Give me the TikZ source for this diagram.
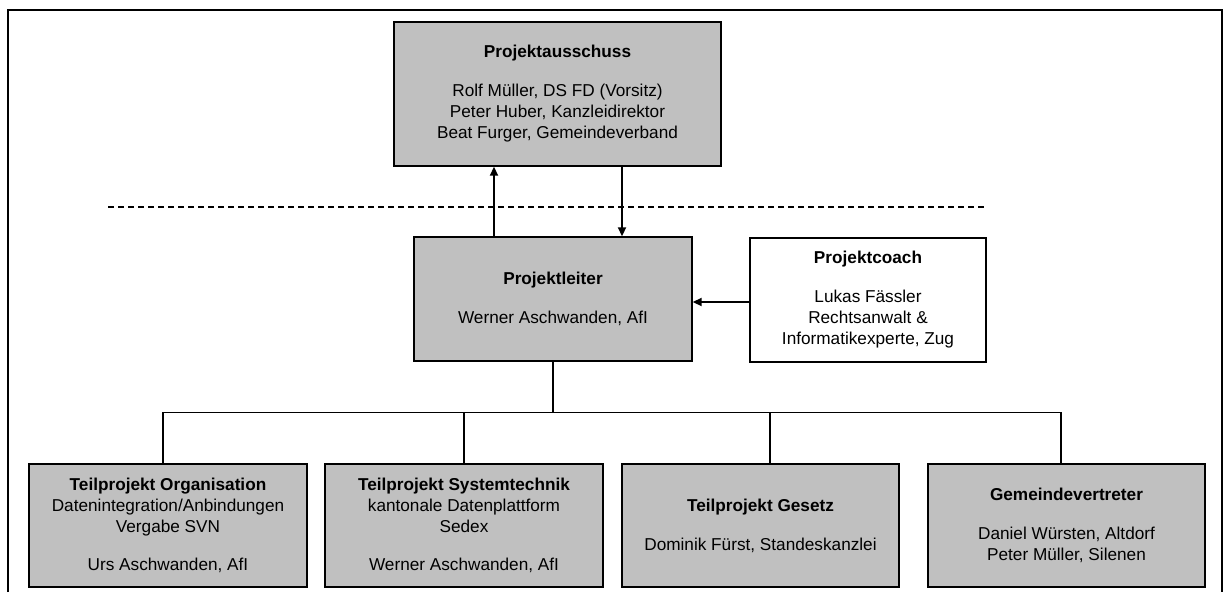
\documentclass[tikz,border=0pt]{standalone}
\usepackage{fontspec}
\setmainfont{Liberation Sans}
\usetikzlibrary{arrows.meta}
\definecolor{boxgray}{RGB}{192,192,192}
\begin{document}
\begin{tikzpicture}[x=1pt,y=-1pt,
  box/.style={draw=black, line width=1.4pt, fill=boxgray, align=center, inner sep=0pt,
    font=\fontsize{17.2}{21}\selectfont},
  wbox/.style={box, fill=white},
  conn/.style={line width=1.5pt},
  arr/.style={line width=1.9pt, -{Triangle[length=9pt,width=8pt]}},
  sep/.style={line width=1.5pt, dash pattern=on 6pt off 4pt},
  frame/.style={line width=2pt}]
\useasboundingbox (0,0) rectangle (1226,592);
\fill[white] (0,0) rectangle (1226,592);
\coordinate (fbl) at (8,592);
\coordinate (ftl) at (8,10);
\coordinate (ftr) at (1222,10);
\coordinate (fbr) at (1222,592);
\draw[frame] (fbl) -- (ftl) -- (ftr) -- (fbr);

\node[box, minimum width=327pt, minimum height=144pt] (pa) at (557.5,94)
  {\textbf{Projektausschuss}\\[18pt]Rolf Müller, DS FD (Vorsitz)\\Peter Huber, Kanzleidirektor\\Beat Furger, Gemeindeverband};
\node[box, minimum width=278pt, minimum height=124pt] (pl) at (553,299)
  {\textbf{Projektleiter}\\[18pt]Werner Aschwanden, AfI};
\node[wbox, minimum width=236pt, minimum height=124pt] (pc) at (868,300)
  {\textbf{Projektcoach}\\[18pt]Lukas Fässler\\Rechtsanwalt \&\\Informatikexperte, Zug};

\node[box, minimum width=278pt, minimum height=123pt] (b1) at (168,525.5)
  {\textbf{Teilprojekt Organisation}\\Datenintegration/Anbindungen\\Vergabe SVN\\[17pt]Urs Aschwanden, AfI};
\node[box, minimum width=278pt, minimum height=123pt] (b2) at (464,525.5)
  {\textbf{Teilprojekt Systemtechnik}\\kantonale Datenplattform\\Sedex\\[17pt]Werner Aschwanden, AfI};
\node[box, minimum width=277pt, minimum height=123pt] (b3) at (760.5,525.5)
  {\textbf{Teilprojekt Gesetz}\\[18pt]Dominik Fürst, Standeskanzlei};
\node[box, minimum width=277pt, minimum height=123pt] (b4) at (1066.5,525.5)
  {\textbf{Gemeindevertreter}\\[18pt]Daniel Würsten, Altdorf\\Peter Müller, Silenen};

\coordinate (dl) at (108,207);
\coordinate (dr) at (986,207);
\draw[sep] (dl) -- (dr);

\draw[arr] ([xshift=-59pt]pl.north) -- ([xshift=-63.5pt]pa.south);
\draw[arr] ([xshift=64.5pt]pa.south) -- ([xshift=69pt]pl.north);
\draw[arr] ([yshift=-2pt]pc.west) -- ([yshift=-3pt]pl.east);

\coordinate (bus) at (553,413);
\draw[conn] (pl.south) -- (bus);
\draw[conn] ([xshift=-5pt]b1.north) -- ++(0,-51) -| ([xshift=-5.5pt]b4.north);
\draw[conn] (b2.north) -- (b2.north |- bus);
\draw[conn] ([xshift=9.5pt]b3.north) -- ++(0,-51);
\end{tikzpicture}
\end{document}
